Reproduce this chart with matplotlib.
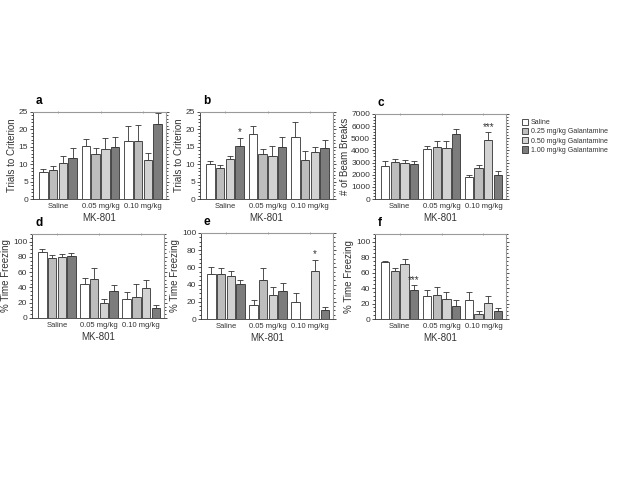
import numpy as np
import matplotlib
matplotlib.use("Agg")
import matplotlib.pyplot as plt
from matplotlib.ticker import MultipleLocator
from matplotlib.patches import Patch

plt.rcParams["font.family"] = ["Liberation Sans", "DejaVu Sans"]

groups = ["Saline", "0.05 mg/kg", "0.10 mg/kg"]
treatments = ["Saline", "0.25 mg/kg Galantamine", "0.50 mg/kg Galantamine", "1.00 mg/kg Galantamine"]
colors = ["white", "#bdbdbd", "#d2d2d2", "#7c7c7c"]

# means[group][treatment], tops = mean + SEM
a_mean = [[7.9, 8.4, 10.3, 11.9], [15.2, 13.0, 14.4, 14.8], [16.8, 16.7, 11.3, 21.5]]
a_top = [[8.7, 9.6, 12.4, 14.7], [17.3, 14.7, 17.6, 17.9], [20.9, 21.2, 13.3, 24.8]]
b_mean = [[10.0, 8.9, 11.4, 15.2], [18.7, 12.9, 12.4, 15.0], [17.8, 11.3, 13.4, 14.6]]
b_top = [[11.0, 9.8, 12.5, 17.6], [21.0, 14.4, 15.2, 17.8], [22.1, 13.7, 15.0, 16.9]]
c_mean = [[2720, 3050, 2990, 2880], [4090, 4310, 4180, 5330], [1790, 2530, 4840, 1980]]
c_top = [[3160, 3300, 3190, 3100], [4370, 4810, 4750, 5740], [1950, 2770, 5490, 2340]]
d_mean = [[87, 79, 79.5, 81.5], [45, 50.5, 19.7, 35.2], [25, 27, 39.5, 13.7]]
d_top = [[90.5, 83, 83.5, 85], [52, 65, 24.5, 43.8], [33.5, 45, 50, 16.7]]
e_mean = [[52.7, 52.7, 50, 41], [16.7, 45, 28.3, 32.6], [19.8, np.nan, 55.8, 10.9]]
e_top = [[60.5, 59.7, 55.4, 45], [21.7, 59.3, 37.2, 42.2], [30.6, np.nan, 69, 14.3]]
f_mean = [[73.5, 61.5, 71.4, 37.2], [29.5, 31.6, 26, 16.7], [24, 6.4, 21, 10.3]]
f_top = [[75.6, 65.8, 77.4, 43.6], [37.2, 41.5, 34.6, 25.2], [34.6, 10.7, 29.5, 14.5]]

# significance marks: (group, treatment, text)
b_stars = [(0, 3, "*")]
c_stars = [(2, 2, "***")]
e_stars = [(2, 2, "*")]
f_stars = [(0, 3, "***")]

panels = [
    ("a", a_mean, a_top, [], "Trials to Criterion", 25, 5, 1, [33, 112, 166, 199]),
    ("b", b_mean, b_top, b_stars, "Trials to Criterion", 25, 5, 1, [200, 112, 333, 199]),
    ("c", c_mean, c_top, c_stars, "# of Beam Breaks", 7000, 1000, 250, [375, 114, 506, 199]),
    ("d", d_mean, d_top, [], "% Time Freezing", 110, 20, 5, [32, 234, 164, 318]),
    ("e", e_mean, e_top, e_stars, "% Time Freezing", 100, 20, 5, [201, 233, 333, 319]),
    ("f", f_mean, f_top, f_stars, "% Time Freezing", 110, 20, 5, [375, 234, 506, 319]),
]

W, H = 640, 480
fig = plt.figure(figsize=(6.4, 4.8), dpi=100)
step = 0.23
bw = 0.2
x = np.arange(len(groups))
ink = "#333333"
for letter, mean, top, stars, ylab, ymax, major, minor, box in panels:
    l, t, r, b = box
    ax = fig.add_axes([l / W, 1 - b / H, (r - l) / W, (b - t) / H])
    mean = np.array(mean, dtype=float)
    top = np.array(top, dtype=float)
    for k in range(len(treatments)):
        xs = x + (k - 1.5) * step
        ax.bar(xs, mean[:, k], bw, color=colors[k], edgecolor=ink, linewidth=0.6, zorder=2)
        err = top[:, k] - mean[:, k]
        ax.errorbar(xs, mean[:, k], yerr=[np.zeros_like(err), err], fmt="none",
                    ecolor=ink, elinewidth=0.6, capsize=2, capthick=0.6, zorder=1)
    for g, k, s in stars:
        ax.text(x[g] + (k - 1.5) * step, top[g, k] + ymax * 0.005, s, ha="center", va="bottom",
                fontsize=7, color=ink)
    ax.set_xlim(-0.59, 2.54)
    ax.set_ylim(0, ymax)
    ax.yaxis.set_major_locator(MultipleLocator(major))
    ax.yaxis.set_minor_locator(MultipleLocator(minor))
    ax.set_xticks(x)
    ax.set_xticklabels(groups)
    ax.tick_params(axis="x", length=0, labelsize=5.5, pad=3, colors=ink)
    ax.tick_params(axis="y", which="major", length=2.5, width=0.6, labelsize=6, pad=1,
                   right=True, colors=ink)
    ax.tick_params(axis="y", which="minor", length=1.5, width=0.5, right=True)
    for sp in ["left", "bottom"]:
        ax.spines[sp].set_color(ink)
        ax.spines[sp].set_linewidth(0.6)
    for sp in ["top", "right"]:
        ax.spines[sp].set_color("#9a9a9a")
        ax.spines[sp].set_linewidth(0.8)
    sec = ax.secondary_xaxis("top")
    sec.set_xticks(x)
    sec.set_xticklabels([])
    sec.tick_params(length=2, width=0.6, color="#9a9a9a", direction="inout")
    sec.spines["top"].set_visible(False)
    ax.set_xlabel("MK-801", fontsize=7, labelpad=2, color=ink)
    ax.set_ylabel(ylab, fontsize=7, labelpad=1, color=ink)
    fig.text((l + 3) / W, 1 - (t - 11) / H, letter, fontsize=8.5, fontweight="bold",
             ha="left", va="center")

handles = [Patch(facecolor=c, edgecolor=ink, linewidth=0.6) for c in colors]
fig.legend(handles, treatments, loc="upper left", bbox_to_anchor=(519 / W, 1 - 116 / H),
           frameon=False, fontsize=5, handlelength=0.9, handleheight=1.0,
           handletextpad=0.4, labelspacing=0.25, borderaxespad=0, labelcolor=ink)

fig.savefig("out.png", dpi=100, facecolor="white")
